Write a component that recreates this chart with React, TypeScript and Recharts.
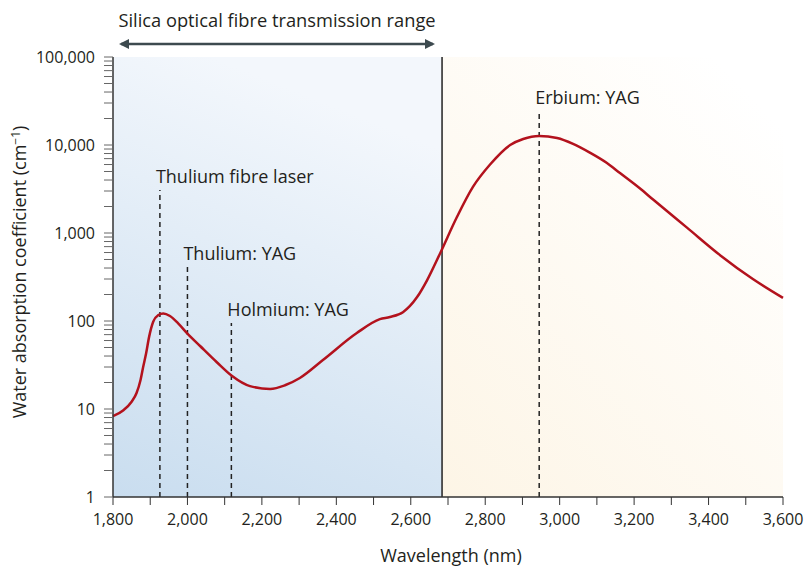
import React from 'react'
import {
  LineChart,
  Line,
  XAxis,
  YAxis,
  ReferenceArea,
  ReferenceLine,
  ReferenceDot,
} from 'recharts'

// curve (wavelength nm, absorption cm^-1)
const wavelengths = [
  1800, 1828, 1850, 1863, 1874, 1881, 1889, 1897, 1908, 1922, 1935, 1953, 1975,
  2000, 2034, 2079, 2120, 2168, 2222, 2262, 2302, 2364, 2455, 2517, 2544, 2579,
  2617, 2644, 2679, 2724, 2767, 2813, 2867, 2902, 2945, 2993, 3036, 3081, 3127,
  3162, 3216, 3251, 3342, 3431, 3519, 3600,
]
const absorption = [
  8.3, 9.7, 12.1, 15.1, 21.4, 30, 43, 66, 98, 117, 122, 114, 94, 72, 52, 34,
  23.7, 18.2, 16.9, 18.6, 22.5, 36, 73, 105, 111, 126, 187, 292, 590, 1520, 3340,
  6000, 10000, 11700, 12650, 12000, 10300, 8200, 6240, 4800, 3200, 2400, 1150,
  560, 300, 183,
]

const laserNames = ['Thulium fibre laser', 'Thulium: YAG', 'Holmium: YAG', 'Erbium: YAG']
const laserWavelengths = [1926, 2000, 2118, 2945]
const laserTops = [3080, 411, 95, 24300]

const silicaLimit = 2684
const xTicks = [
  1800, 1900, 2000, 2100, 2200, 2300, 2400, 2500, 2600, 2700, 2800, 2900, 3000,
  3100, 3200, 3300, 3400, 3500, 3600,
]
const decades = [1, 10, 100, 1000, 10000]
const yTicks = [...decades.flatMap((d) => [1, 2, 3, 4, 5, 6, 7, 8, 9].map((m) => m * d)), 100000]

const data = wavelengths.map((w, i) => ({ w, a: absorption[i] }))

const FONT = '"Open Sans", "Noto Sans", sans-serif'
const INK = '#231f20'

const XTick = (props: any) => {
  const { x, y, payload } = props
  if (payload.value % 200 !== 0) return null
  return (
    <text x={x} y={y} dy="0.72em" textAnchor="middle" fontSize={16} fill={INK} fontFamily={FONT}>
      {payload.value.toLocaleString('en-US')}
    </text>
  )
}

const YTick = (props: any) => {
  const { x, y, payload } = props
  const lg = Math.log10(payload.value)
  if (Math.abs(lg - Math.round(lg)) > 1e-6) return null
  return (
    <text x={x} y={y} dy="0.35em" textAnchor="end" fontSize={16} fill={INK} fontFamily={FONT}>
      {payload.value.toLocaleString('en-US')}
    </text>
  )
}

export default function App() {
  return (
    <div style={{ position: 'absolute', left: 0, top: 0, width: 808, height: 568, background: '#fff' }}>
      <LineChart
        width={808}
        height={568}
        data={data}
        margin={{ top: 57, right: 25, bottom: 41, left: 0 }}
      >
        <defs>
          <linearGradient id="blueFill" x1="0.3" y1="0" x2="0" y2="1">
            <stop offset="0%" stopColor="#f3f7fc" />
            <stop offset="100%" stopColor="#c9ddef" />
          </linearGradient>
          <linearGradient id="warmFill" x1="0" y1="1" x2="0.8" y2="0">
            <stop offset="0%" stopColor="#fdf5e6" />
            <stop offset="100%" stopColor="#ffffff" />
          </linearGradient>
        </defs>
        <ReferenceArea
          x1={1800}
          x2={silicaLimit}
          y1={1}
          y2={100000}
          fill="url(#blueFill)"
          fillOpacity={1}
          stroke="none"
        />
        <ReferenceArea
          x1={silicaLimit}
          x2={3600}
          y1={1}
          y2={100000}
          fill="url(#warmFill)"
          fillOpacity={1}
          stroke="none"
        />
        <XAxis
          dataKey="w"
          type="number"
          domain={[1800, 3600]}
          ticks={xTicks}
          interval={0}
          height={30}
          tickSize={8}
          tickMargin={8}
          tick={<XTick />}
          axisLine={{ stroke: '#333', strokeWidth: 1.5 }}
          tickLine={{ stroke: '#333' }}
        />
        <YAxis
          type="number"
          scale="log"
          domain={[1, 100000]}
          allowDataOverflow
          ticks={yTicks}
          interval={0}
          width={113}
          tickSize={9}
          tickMargin={9}
          tick={<YTick />}
          axisLine={{ stroke: '#333', strokeWidth: 1.5 }}
          tickLine={{ stroke: '#666' }}
        />
        <ReferenceLine x={silicaLimit} stroke="#222" strokeWidth={1.5} />
        {laserWavelengths.map((w, i) => (
          <ReferenceLine
            key={`l-${i}`}
            segment={[
              { x: w, y: 1 },
              { x: w, y: laserTops[i] },
            ]}
            stroke="#222"
            strokeWidth={1.5}
            strokeDasharray="5 4"
          />
        ))}
        <Line
          type="monotone"
          dataKey="a"
          stroke="#b3121d"
          strokeWidth={2.5}
          dot={false}
          isAnimationActive={false}
        />
        {laserWavelengths.map((w, i) => (
          <ReferenceDot
            key={`t-${i}`}
            x={w}
            y={laserTops[i]}
            ifOverflow="visible"
            shape={(p: any) => (
              <text x={p.cx - 4} y={p.cy - 7} fontSize={18} fill={INK} fontFamily={FONT}>
                {laserNames[i]}
              </text>
            )}
          />
        ))}
      </LineChart>
      <svg
        width={808}
        height={568}
        style={{ position: 'absolute', left: 0, top: 0, pointerEvents: 'none' }}
      >
        <defs>
          <marker id="head" viewBox="0 0 10 10" refX="8" refY="5" markerWidth="4" markerHeight="4" orient="auto-start-reverse">
            <path d="M0,0 L10,5 L0,10 z" fill="#3d4a4f" />
          </marker>
        </defs>
        <text x={277} y={27} textAnchor="middle" fontSize={18.3} fill={INK} fontFamily={FONT}>
          Silica optical fibre transmission range
        </text>
        <line
          x1={121}
          y1={44}
          x2={433}
          y2={44}
          stroke="#3d4a4f"
          strokeWidth={2.5}
          markerStart="url(#head)"
          markerEnd="url(#head)"
        />
        <text
          transform="translate(26,272) rotate(-90)"
          textAnchor="middle"
          fontSize={18}
          fill={INK}
          fontFamily={FONT}
        >
          Water absorption coefficient (cm<tspan dy={-6} fontSize={12}>−1</tspan>
          <tspan dy={6}>)</tspan>
        </text>
        <text x={451} y={562} textAnchor="middle" fontSize={18} fill={INK} fontFamily={FONT}>
          Wavelength (nm)
        </text>
      </svg>
    </div>
  )
}
